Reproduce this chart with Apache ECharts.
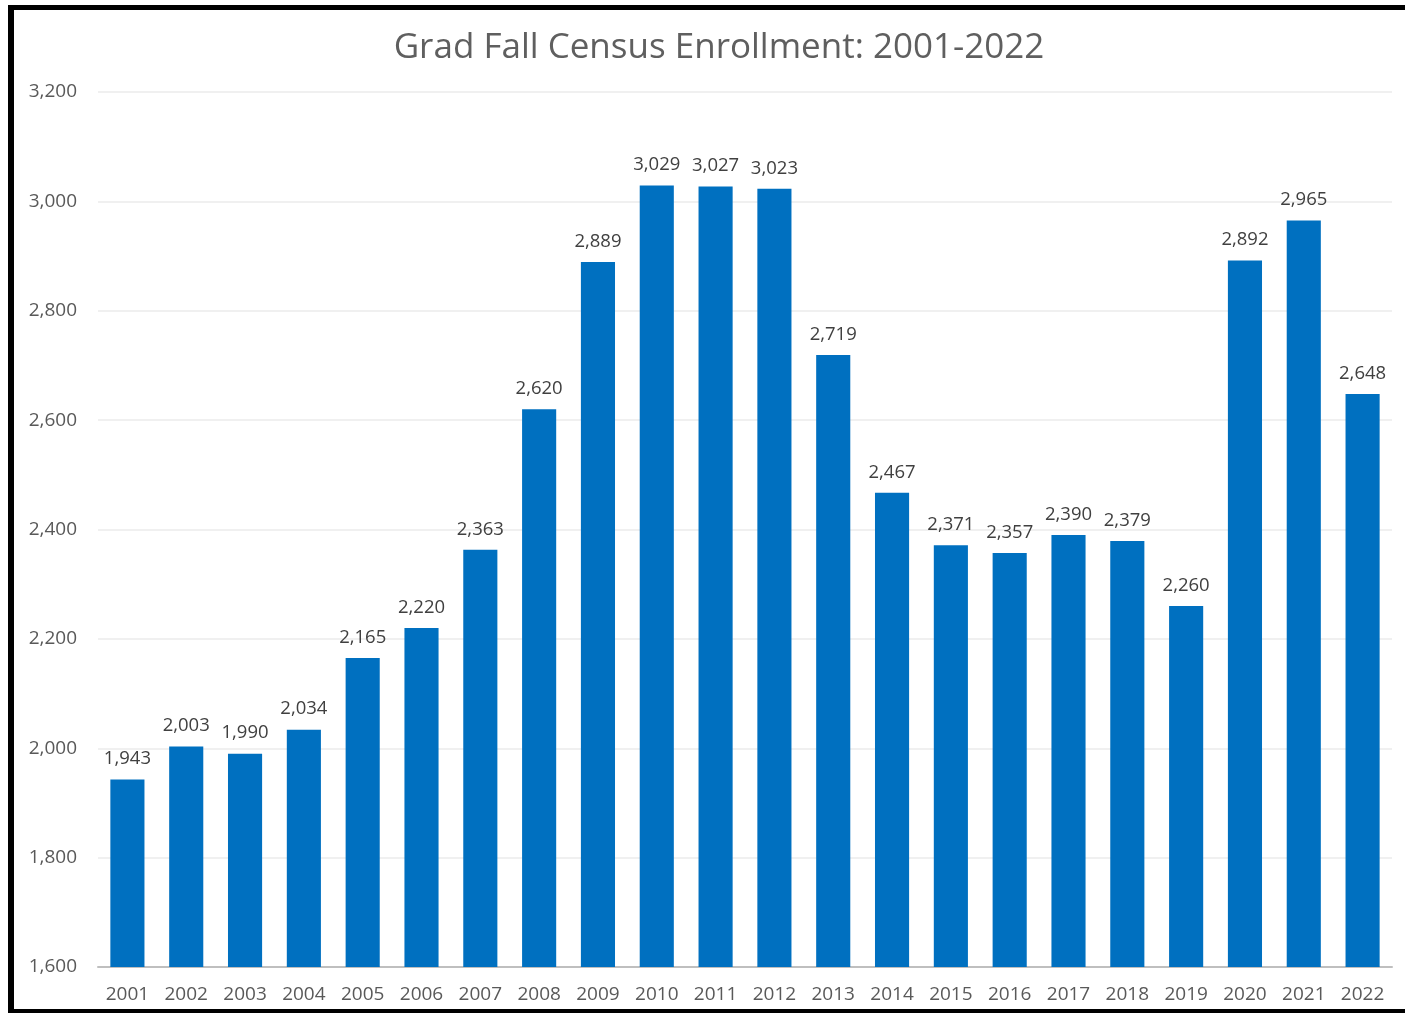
<!DOCTYPE html>
<html>
<head>
<meta charset="utf-8">
<script src="https://cdn.jsdelivr.net/npm/echarts@6/dist/echarts.min.js"></script>
<style>
  html, body { margin: 0; padding: 0; background: #fff; }
  #chart { position: absolute; left: 0; top: 0; width: 1405px; height: 1017px; }
  .frame {
    position: absolute; left: 8px; top: 5px; width: 1420px; height: 999px;
    border-left: 6px solid #000; border-top: 5px solid #000; border-bottom: 4px solid #000;
    pointer-events: none;
  }
</style>
</head>
<body>
<div id="chart"></div>
<div class="frame"></div>
<script>
const years = ['2001', '2002', '2003', '2004', '2005', '2006', '2007', '2008', '2009', '2010', '2011',
  '2012', '2013', '2014', '2015', '2016', '2017', '2018', '2019', '2020', '2021', '2022'];
const enrollment = [1943, 2003, 1990, 2034, 2165, 2220, 2363, 2620, 2889, 3029, 3027,
  3023, 2719, 2467, 2371, 2357, 2390, 2379, 2260, 2892, 2965, 2648];
const yMin = 1600;
const yMax = 3200;
const yStep = 200;

const fontFamily = '"Open Sans", "Noto Sans", sans-serif';
const fmt = v => Number(v).toLocaleString('en-US');

const chart = echarts.init(document.getElementById('chart'));
chart.setOption({
  animation: false,
  backgroundColor: '#fff',
  title: {
    text: 'Grad Fall Census Enrollment: 2001-2022',
    left: 714,
    textAlign: 'center',
    top: 26,
    textStyle: { fontFamily, fontSize: 35, fontWeight: 'normal', color: '#5f5f5f' }
  },
  grid: { left: 98, right: 13, top: 92, bottom: 50, containLabel: false },
  xAxis: {
    type: 'category',
    data: years,
    axisTick: { show: false },
    axisLine: { lineStyle: { color: '#bfbfbf', width: 2 } },
    axisLabel: { fontFamily, fontSize: 19, color: '#595959', margin: 18 }
  },
  yAxis: {
    type: 'value',
    min: yMin,
    max: yMax,
    interval: yStep,
    axisLine: { show: false },
    axisTick: { show: false },
    splitLine: { lineStyle: { color: '#ebebeb', width: 1.5 } },
    axisLabel: { fontFamily, fontSize: 19, color: '#595959', margin: 21, formatter: fmt }
  },
  series: [{
    type: 'bar',
    data: enrollment,
    barCategoryGap: '42%',
    itemStyle: { color: '#0070c0' },
    label: {
      show: true,
      position: 'top',
      distance: 11,
      fontFamily,
      fontSize: 18.5,
      color: '#404040',
      formatter: p => fmt(p.value)
    }
  }]
});
</script>
</body>
</html>
